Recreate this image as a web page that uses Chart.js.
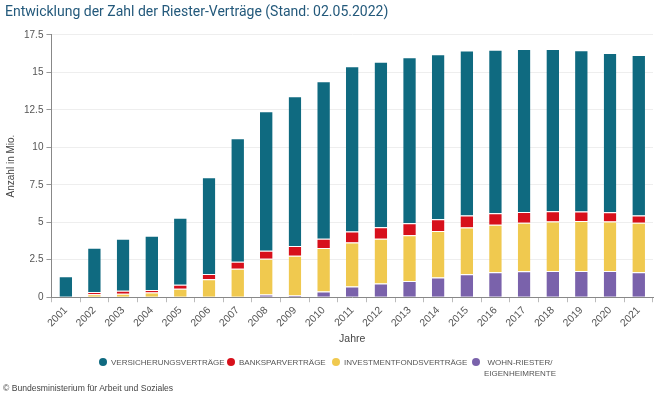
<!DOCTYPE html>
<html><head><meta charset="utf-8">
<script src="https://cdn.jsdelivr.net/npm/chart.js@4"></script>
<style>
html,body{margin:0;padding:0;background:#fff;}
#wrap{position:relative;width:660px;height:396px;overflow:hidden;}
#c{position:absolute;left:0;top:0;}
#legend{position:absolute;top:358px;left:0;width:660px;font-family:"Liberation Sans",Arial,sans-serif;font-size:8px;color:#555;}
.li{position:absolute;top:0;display:flex;align-items:flex-start;white-space:nowrap;}
.dot{width:8px;height:8px;border-radius:50%;margin-right:4px;flex:none;}
.lt{line-height:11px;margin-top:-1.5px;}
#copy{position:absolute;left:3px;top:383px;font-family:"Liberation Sans",Arial,sans-serif;font-size:8.6px;color:#444;}
</style></head>
<body><div id="wrap"><canvas id="c" width="660" height="396"></canvas>
<div id="legend"></div>
<div id="copy">© Bundesministerium für Arbeit und Soziales</div></div>
<script>
const years = ['2001','2002','2003','2004','2005','2006','2007','2008','2009','2010','2011','2012','2013','2014','2015','2016','2017','2018','2019','2020','2021'];
const versicherung = [1.4,2.95,3.46,3.61,4.47,6.45,8.24,9.3,9.99,10.5,11.01,11.03,11.06,11.0,11.0,10.9,10.87,10.82,10.76,10.62,10.71];
const bank = [0,0.15,0.2,0.18,0.26,0.35,0.46,0.53,0.64,0.62,0.74,0.77,0.8,0.79,0.8,0.77,0.73,0.69,0.62,0.62,0.49];
const invest = [0,0.2,0.24,0.31,0.57,1.2,1.9,2.38,2.65,2.89,2.94,2.99,3.05,3.1,3.12,3.17,3.23,3.3,3.34,3.3,3.3];
const wohn = [0,0,0,0,0,0,0,0.19,0.12,0.39,0.71,0.91,1.09,1.31,1.53,1.66,1.73,1.75,1.75,1.75,1.66];
const seriesNames = ['VERSICHERUNGSVERTRÄGE','BANKSPARVERTRÄGE','INVESTMENTFONDSVERTRÄGE','WOHN-RIESTER/\nEIGENHEIMRENTE'];
const colors = ['#0f6a80','#d7101b','#f0c94f','#7a62ab'];

const mk = (label,data,color)=>({label,data,backgroundColor:color,borderColor:'#ffffff',borderWidth:{top:1,bottom:0,left:0,right:0},borderSkipped:false,barPercentage:0.44,categoryPercentage:1});
const ds = [
  mk(seriesNames[3],wohn,colors[3]),
  mk(seriesNames[2],invest,colors[2]),
  mk(seriesNames[1],bank,colors[1]),
  mk(seriesNames[0],versicherung,colors[0])
];
const font = '"Liberation Sans", Arial, sans-serif';
new Chart(document.getElementById('c'),{
  type:'bar',
  data:{labels:years,datasets:ds},
  options:{
    responsive:false,animation:false,
    layout:{padding:{left:5,right:7,top:0,bottom:51}},
    plugins:{
      legend:{display:false},tooltip:{enabled:false},
      title:{display:true,text:'Entwicklung der Zahl der Riester-Verträge (Stand: 02.05.2022)',align:'start',color:'#23597b',font:{family:'Roboto',size:14,weight:'normal'},padding:{top:4,bottom:14}}
    },
    scales:{
      x:{stacked:true,
        grid:{display:true,drawOnChartArea:false,tickLength:5,color:'#bbb',offset:true},
        border:{color:'#888'},
        ticks:{color:'#555',font:{family:font,size:10.4},maxRotation:45,minRotation:45,padding:2},
        title:{display:true,text:'Jahre',color:'#444',font:{family:font,size:10.5},padding:{top:1,bottom:0}}
      },
      y:{stacked:true,min:0,max:17.5,
        ticks:{stepSize:2.5,color:'#555',font:{family:font,size:10},padding:3},
        grid:{color:'#eeeeee',tickLength:5,tickColor:'#999'},
        border:{color:'#888'},
        title:{display:true,text:'Anzahl in Mio.',color:'#444',font:{family:font,size:10},padding:{top:0,bottom:4}}
      }
    }
  }
});
const lg = document.getElementById('legend');
const lefts = [99,227,332,472];
[0,1,2,3].forEach((i,k)=>{
  const d = document.createElement('div'); d.className='li'; d.style.left=lefts[k]+'px';
  const dot = document.createElement('div'); dot.className='dot'; dot.style.background=colors[i];
  const t = document.createElement('div'); t.className='lt'; t.style.textAlign='center';
  seriesNames[i].split('\n').forEach((p,j)=>{ if(j) t.appendChild(document.createElement('br')); t.appendChild(document.createTextNode(p)); });
  d.appendChild(dot); d.appendChild(t); lg.appendChild(d);
});
</script></body></html>
